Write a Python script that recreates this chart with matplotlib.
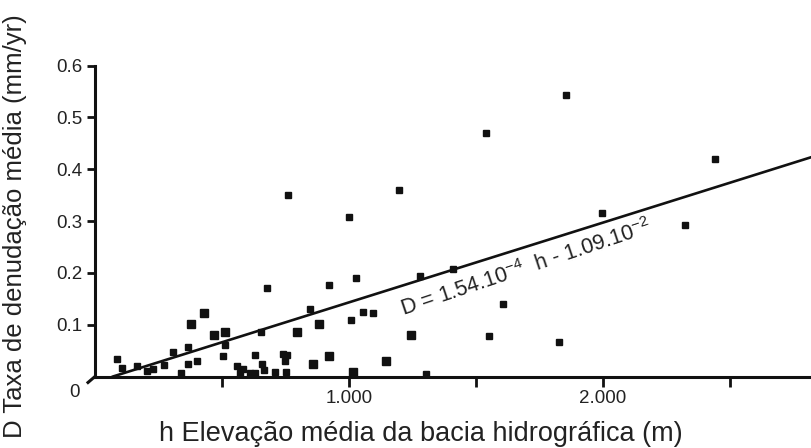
import numpy as np
import matplotlib
matplotlib.use("Agg")
import matplotlib.pyplot as plt
from matplotlib.lines import Line2D

plt.rcParams['font.family'] = ['Liberation Sans', 'DejaVu Sans']

# ---- data ----
# small squares
h_small = [88, 105, 164, 206, 230, 272, 306, 337, 365, 365, 403, 512, 502,
           676, 652, 630, 558, 584, 571, 610, 630, 656, 667, 709, 741, 755,
           748, 751, 846, 922, 1007, 1028, 1055, 1096, 761, 1001, 1198,
           1280, 1408, 1302, 1539, 1854, 2441, 1998, 2324, 1607, 1551, 1827]
D_small = [0.034, 0.017, 0.020, 0.011, 0.0145, 0.022, 0.047, 0.006, 0.056,
           0.025, 0.029, 0.061, 0.040, 0.171, 0.086, 0.041, 0.020, 0.014,
           0.006, 0.006, 0.006, 0.025, 0.0125, 0.009, 0.043, 0.0415, 0.030,
           0.009, 0.131, 0.177, 0.109, 0.191, 0.1245, 0.1226, 0.350, 0.3085,
           0.360, 0.194, 0.2066, 0.005, 0.470, 0.543, 0.419, 0.3156, 0.292,
           0.139, 0.0776, 0.067]
# larger squares
h_large = [378, 430, 467, 512, 796, 882, 859, 922, 1017, 1243, 1144]
D_large = [0.101, 0.123, 0.080, 0.086, 0.086, 0.101, 0.025, 0.040, 0.009,
           0.080, 0.0305]

slope = 1.54e-4
intercept = -1.09e-2

xticks = [500, 1000, 1500, 2000, 2500]
xticklabels = ['', '1.000', '', '2.000', '']
yticks = [0.1, 0.2, 0.3, 0.4, 0.5, 0.6]
yticklabels = ['0.1', '0.2', '0.3', '0.4', '0.5', '0.6']

xlabel = 'h Elevação média da bacia hidrográfica (m)'
ylabel = 'D Taxa de denudação média (mm/yr)'
equation = r'D = 1.54.10$^{\mathregular{-4}}$  h - 1.09.10$^{\mathregular{-2}}$'

# ---- figure ----
W, H = 812, 448
fig = plt.figure(figsize=(W / 100, H / 100), dpi=100)
ax = fig.add_axes([95 / W, (H - 376.5) / H, (W - 95) / W, (376.5 - 65.7) / H])
xmax = 2823
ax.set_xlim(0, xmax)
ax.set_ylim(0, 0.6)

txt_color = '#222222'
for s in ['top', 'right']:
    ax.spines[s].set_visible(False)
for s in ['left', 'bottom']:
    ax.spines[s].set_linewidth(2.2)
    ax.spines[s].set_color('#111111')

ax.set_xticks(xticks)
ax.set_xticklabels(xticklabels)
ax.set_yticks(yticks)
ax.set_yticklabels(yticklabels)
ax.tick_params(axis='x', direction='out', length=7, width=2, color='#111111',
               labelsize=13.5, labelcolor=txt_color, pad=3)
ax.tick_params(axis='y', direction='out', length=6, width=2, color='#111111',
               labelsize=13.5, labelcolor=txt_color, pad=3)

# data points
ax.plot(h_small, D_small, linestyle='none', marker='s', markersize=5.0,
        color='#111111', clip_on=False, zorder=3)
ax.plot(h_large, D_large, linestyle='none', marker='s', markersize=6.4,
        color='#111111', clip_on=False, zorder=3)

# regression line
h_line = np.array([-intercept / slope, xmax])
ax.plot(h_line, slope * h_line + intercept, color='#111111', linewidth=1.9,
        zorder=2, clip_on=False)

# equation along the line
ax.text(1213, 0.117, equation, rotation=18.5, rotation_mode='anchor',
        ha='left', va='baseline', fontsize=15.5, color=txt_color)

# origin "0" label
ax.text(-0.028, -0.05, '0', transform=ax.transAxes, fontsize=13.5,
        color=txt_color, ha='center', va='center')

# small corner stroke at the origin
x0, y0 = 95, H - 376.5
fig.add_artist(Line2D([x0 / W, (x0 - 7) / W], [y0 / H, (y0 - 6) / H],
                      transform=fig.transFigure, color='#111111', linewidth=2.2))

# axis labels
fig.text(421 / W, (H - 434) / H, xlabel, ha='center', va='center',
         fontsize=19.5, color=txt_color)
fig.text(15 / W, (H - 226) / H, ylabel, ha='center', va='center',
         rotation=90, fontsize=18.5, color=txt_color)

fig.savefig('out.png', dpi=100)
